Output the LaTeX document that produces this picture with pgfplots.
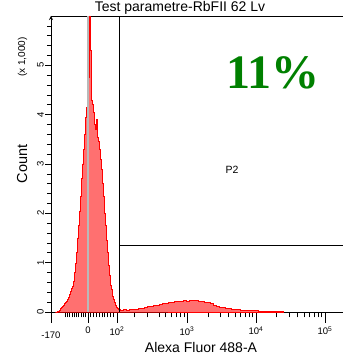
\documentclass[border=0pt]{standalone}
\usepackage{pgfplots}
\pgfplotsset{compat=1.18}
\usepackage{fontspec}
\setmainfont{Liberation Sans}
\newfontfamily\timesfont{Liberation Serif}
\definecolor{histfill}{RGB}{255,112,112}
\definecolor{pctgreen}{RGB}{0,128,0}

% x is in display units of the biexponential scale: 0 at 0, 10^2 at 29, 10^3 at 99, 10^4 at 168, 10^5 at 237
\begin{document}
\begin{tikzpicture}
\begin{axis}[
  scale only axis,
  width=292pt, height=296pt,
  xmin=-37, xmax=255,
  ymin=0, ymax=6,
  axis x line=box, axis y line=left,
  axis line style={black, line width=0.8pt},
  tick align=outside,
  major tick length=5.5pt, minor tick length=3.5pt,
  tick style={black, line width=0.7pt},
  xtick pos=bottom, ytick pos=left,
  xtick={-23,-20.7,-18.4,-16.1,-13.8,-11.5,-9.2,-6.9,-4.6,-2.3,
         2.8,5.6,8.4,11.2,14,16.8,19.6,22.4,25.2,
         46,59,71,77,83,88,92,96,
         120,132,140.5,147,152.7,157.3,161.3,164.8,
         188.8,200.9,209.5,216.2,221.7,226.3,230.3,233.8},
  xticklabels={},
  extra x ticks={-37,0,29,99,168,237},
  extra x tick labels={\raisebox{-12pt}[0pt][0pt]{-170},0,10\textsuperscript{2},10\textsuperscript{3},10\textsuperscript{4},10\textsuperscript{5}},
  extra x tick style={major tick length=11pt},
  ytick={0,1,2,3,4,5},
  yticklabels={0,1,2,3,4,5},
  minor ytick={0.2,0.4,0.6,0.8,1.2,1.4,1.6,1.8,2.2,2.4,2.6,2.8,3.2,3.4,3.6,3.8,4.2,4.4,4.6,4.8,5.2,5.4,5.6,5.8},
  yticklabel style={rotate=90, anchor=south, font=\fontsize{9.5}{10}\selectfont, inner sep=1.5pt},
  xticklabel style={font=\fontsize{9.5}{10}\selectfont},
  clip=false,
]
% histogram
\addplot [const plot, draw=red, line width=0.6pt, fill=histfill] coordinates {
(-33,0)(-31,0.02)(-29,0.04)(-28,0.07)(-27,0.09)(-26,0.11)(-25,0.14)(-24,0.17)(-23,0.2)(-22,0.22)
(-21,0.25)(-20,0.3)(-19,0.36)(-18,0.42)(-17,0.48)(-16,0.52)(-15,0.62)(-14,0.8)(-13,0.98)(-12,1.2)
(-11,1.5)(-10,1.75)(-9,2.05)(-8,2.35)(-7,2.7)(-6,3.0)(-5,3.3)(-4,3.6)(-3,3.95)(-2,4.15)
(-1,4.45)(0,4.75)(1,6)(2,5.3)(3,4.3)(4,4.2)(5,4.05)(6,3.8)(7,3.7)(8,3.9)
(9,3.55)(10,3.45)(11,3.3)(12,3.1)(13,2.9)(14,2.6)(15,2.35)(16,2.0)(17,1.75)(18,1.45)
(19,1.2)(20,0.95)(21,0.75)(22,0.55)(23,0.45)(24,0.32)(25,0.25)(26,0.2)(27,0.14)(28,0.1)
(29,0.08)(30,0.06)(31,0.05)(32,0.04)(35,0.05)(38,0.04)(41,0.05)(44,0.05)(47,0.06)(50,0.07)
(53,0.08)(56,0.1)(59,0.11)(62,0.12)(65,0.13)(68,0.14)(71,0.16)(74,0.17)(77,0.18)(80,0.19)
(83,0.2)(86,0.21)(89,0.21)(92,0.22)(95,0.23)(98,0.22)(101,0.24)(104,0.23)(107,0.23)(110,0.22)
(113,0.21)(116,0.2)(119,0.19)(122,0.18)(125,0.14)(128,0.11)(131,0.1)(134,0.09)(137,0.08)(140,0.07)
(143,0.06)(146,0.06)(149,0.05)(152,0.04)(156,0.04)(160,0.03)(165,0.03)(170,0.02)(175,0.02)(180,0.02)
(185,0.01)(190,0.01)(195,0)
} \closedcycle;
% zero marker line
\addplot [gray!55, line width=1.2pt] coordinates {(0,0)(0,6)};
% gate P2
\addplot [black, line width=0.8pt] coordinates {(31,0)(31,6)};
\addplot [black, line width=0.8pt] coordinates {(31,1.34)(255,1.34)};
\coordinate (bl) at (rel axis cs:0,0);
\coordinate (tr) at (rel axis cs:1,1);
\node [font=\fontsize{10.5}{11}\selectfont] at (axis cs:144,2.88) {P2};
\node [font=\timesfont\bfseries\fontsize{48}{48}\selectfont, text=pctgreen] at (axis cs:185,4.85) {11\%};
\end{axis}
\node [font=\fontsize{14}{14}\selectfont, anchor=base] at ([shift={(129pt,4pt)}]bl |- tr) {Test parametre-RbFII 62 Lv};
\node [font=\fontsize{14}{14}\selectfont, anchor=base] at ([shift={(150pt,-40pt)}]bl) {Alexa Fluor 488-A};
\node [font=\fontsize{14.5}{14.5}\selectfont, rotate=90, anchor=base] at ([shift={(-24pt,148pt)}]bl) {Count};
\node [font=\fontsize{10}{10}\selectfont, rotate=90, anchor=base] at ([shift={(-26pt,255pt)}]bl) {(x 1,000)};
\pgfresetboundingbox
\path ([shift={(-51pt,-43pt)}]bl) rectangle ([shift={(0pt,16pt)}]tr);
\end{tikzpicture}
\end{document}
